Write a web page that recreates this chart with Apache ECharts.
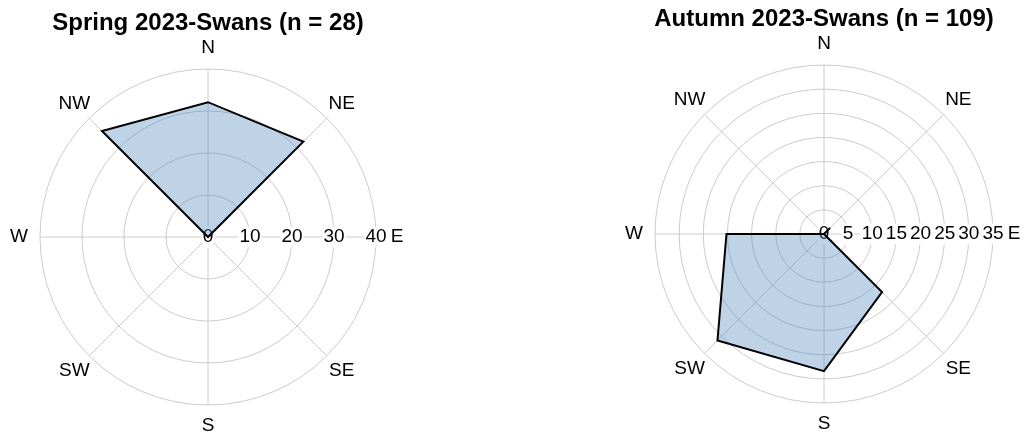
<!DOCTYPE html>
<html>
<head>
<meta charset="utf-8">
<script src="https://cdn.jsdelivr.net/npm/echarts@6/dist/echarts.min.js"></script>
<style>
  html, body { margin: 0; padding: 0; background: #ffffff; }
  #chart { width: 1026px; height: 439px; }
</style>
</head>
<body>
<div id="chart"></div>
<script>
// Compass sectors, listed clockwise starting at East (the radial scale runs along East)
const directions = ['E', 'SE', 'S', 'SW', 'W', 'NW', 'N', 'NE'];
// Bearing of each sector, measured clockwise from East (degrees)
const bearings = [0, 45, 90, 135, 180, 225, 270, 315];
// Share of flight directions per sector (%)
const springValues = [0, 0, 0, 0, 0, 35.7, 32.1, 32.1];
const autumnValues = [0, 17.0, 28.4, 31.2, 20.2, 0, 0, 1.8];
// Radial tick labels
const springTicks = [0, 10, 20, 30, 40];
const autumnTicks = [0, 5, 10, 15, 20, 25, 30, 35];
const titles = ['Spring 2023-Swans (n = 28)', 'Autumn 2023-Swans (n = 109)'];

const FONT = '"Liberation Sans", Arial, Helvetica, sans-serif';
const GRID = '#cccccc';
const LABEL_GAP = 21;

const panels = [
  { title: titles[0], values: springValues, ticks: springTicks, center: [208, 237], radius: 168, titleTop: 11 },
  { title: titles[1], values: autumnValues, ticks: autumnTicks, center: [824, 234], radius: 169, titleTop: 7 }
];

const option = {
  backgroundColor: '#ffffff',
  animation: false,
  title: panels.map(p => ({
    text: p.title,
    left: p.center[0],
    top: p.titleTop,
    textAlign: 'center',
    padding: 0,
    textStyle: { fontFamily: FONT, fontSize: 24, fontWeight: 'bold', color: '#000000' }
  })),
  polar: panels.map(p => ({ center: p.center, radius: p.radius })),
  angleAxis: panels.map((p, i) => ({
    polarIndex: i,
    type: 'value',
    min: 0,
    max: 360,
    interval: 45,
    startAngle: 0,
    clockwise: true,
    axisLine: { show: false },
    axisTick: { show: false },
    axisLabel: { show: false },
    splitLine: { show: true, lineStyle: { color: GRID, width: 1 } }
  })),
  radiusAxis: panels.map((p, i) => ({
    polarIndex: i,
    type: 'value',
    min: p.ticks[0],
    max: p.ticks[p.ticks.length - 1],
    interval: p.ticks[1] - p.ticks[0],
    axisLine: { show: false },
    axisTick: { show: false },
    splitLine: { show: true, lineStyle: { color: GRID, width: 1 } },
    axisLabel: {
      show: true,
      margin: 0,
      align: 'center',
      verticalAlign: 'middle',
      fontFamily: FONT,
      fontSize: 19,
      color: '#000000',
      backgroundColor: '#ffffff',
      padding: [1, 1],
      showMinLabel: true,
      showMaxLabel: true
    }
  })),
  series: []
};

panels.forEach((p, i) => {
  const top = p.ticks[p.ticks.length - 1];
  // Filled direction polygon
  option.series.push({
    type: 'custom',
    coordinateSystem: 'polar',
    polarIndex: i,
    z: 5,
    silent: true,
    data: p.values.map((v, k) => [v, bearings[k]]),
    renderItem: function (params, api) {
      if (params.dataIndex !== 0) return null;
      const pts = p.values.map((v, k) => api.coord([v, bearings[k]]));
      return {
        type: 'polygon',
        shape: { points: pts },
        style: { fill: 'rgba(70,130,180,0.35)', stroke: '#000000', lineWidth: 2, lineJoin: 'miter' }
      };
    }
  });
  // Compass labels outside the outer ring
  option.series.push({
    type: 'custom',
    coordinateSystem: 'polar',
    polarIndex: i,
    z: 6,
    silent: true,
    data: directions.map((d, k) => [top, bearings[k]]),
    renderItem: function (params, api) {
      const k = params.dataIndex;
      const edge = api.coord([top, bearings[k]]);
      const mid = api.coord([0, bearings[k]]);
      const dx = edge[0] - mid[0], dy = edge[1] - mid[1];
      const len = Math.hypot(dx, dy) || 1;
      return {
        type: 'text',
        x: edge[0] + dx / len * LABEL_GAP,
        y: edge[1] + dy / len * LABEL_GAP,
        style: {
          text: directions[k],
          fill: '#000000',
          fontFamily: FONT,
          fontSize: 19,
          align: 'center',
          verticalAlign: 'middle'
        }
      };
    }
  });
});

const chart = echarts.init(document.getElementById('chart'), null, { renderer: 'canvas' });
chart.setOption(option);
</script>
</body>
</html>
